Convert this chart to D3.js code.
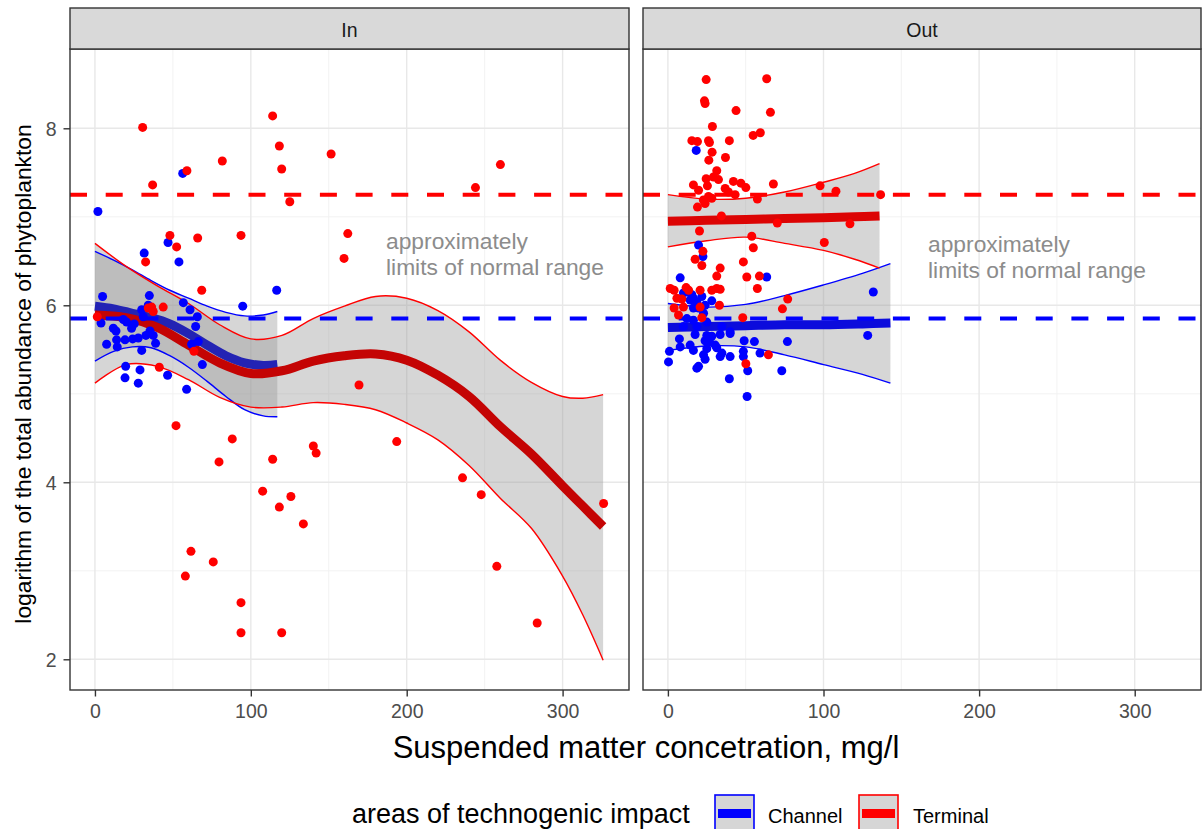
<!DOCTYPE html>
<html>
<head>
<meta charset="utf-8">
<script src="https://cdn.jsdelivr.net/npm/d3@7"></script>
<style>
  html, body { margin: 0; padding: 0; background: #ffffff; }
  svg { display: block; font-family: "Liberation Sans", Arial, Helvetica, sans-serif; }
</style>
</head>
<body>
<svg id="chart" width="1202" height="829"></svg>
<script>
// ---------------- DATA ----------------
const panelNames = ["In", "Out"];
const groupNames = ["Channel", "Terminal"];
const xTickValues = [0, 100, 200, 300];
const xMinorValues = [50, 150, 250];
const yTickValues = [2, 4, 6, 8];
const yMinorValues = [3, 5, 7];
const normalLimits = [5.85, 7.25];           // Channel, Terminal
const annotationLines = ["approximately", "limits of normal range"];
const xTitle = "Suspended matter concetration, mg/l";
const yTitle = "logarithm of the total abundance of phytoplankton";
const legendTitle = "areas of technogenic impact";

// points [x, y]
const inChannelPoints = [
  [1.9,7.06],[56.3,7.49],[46.9,6.71],[31.6,6.59],[53.9,6.49],[116.6,6.17],[94.8,5.99],[4.9,6.10],
  [34.9,6.11],[56.7,6.03],[61.0,5.95],[65.7,5.87],[64.6,5.76],[3.9,5.80],[11.8,5.74],[13.5,5.71],
  [18.2,5.84],[23.5,5.74],[30.0,5.95],[31.0,5.87],[34.2,6.00],[7.5,5.56],[13.9,5.61],[14.3,5.53],
  [19.3,5.61],[24.2,5.62],[27.8,5.63],[32.7,5.66],[35.3,5.71],[37.4,5.66],[38.9,5.57],[30.0,5.49],
  [62.0,5.56],[66.3,5.59],[68.9,5.33],[19.7,5.31],[28.9,5.27],[19.3,5.18],[27.8,5.12],[46.6,5.21],
  [58.8,5.05],[20.3,5.81],[25.2,5.79]
];
const inTerminalPoints = [
  [30.6,8.01],[37.0,7.36],[59.0,7.52],[81.7,7.63],[114.0,8.14],[118.3,7.80],[119.8,7.54],[151.5,7.71],
  [125.0,7.17],[48.1,6.79],[65.9,6.76],[93.7,6.79],[162.2,6.81],[52.4,6.66],[159.8,6.53],[68.5,6.17],
  [32.5,6.49],[43.8,5.98],[34.2,5.97],[36.4,5.98],[37.4,5.93],[1.5,5.87],[41.3,5.30],[63.5,5.48],
  [169.4,5.10],[52.0,4.64],[88.1,4.49],[79.6,4.23],[114.0,4.26],[140.1,4.41],[141.9,4.33],[193.6,4.46],
  [107.6,3.90],[125.7,3.84],[118.3,3.72],[133.7,3.53],[61.6,3.22],[75.9,3.10],[58.0,2.94],[93.7,2.64],
  [93.7,2.30],[119.8,2.30],[260.1,7.59],[244.1,7.33],[235.8,4.05],[247.8,3.86],[326.3,3.76],[257.8,3.05],
  [283.7,2.41]
];
const outChannelPoints = [
  [18.2,7.75],[19.7,6.68],[22.5,6.55],[7.9,6.31],[63.5,6.32],[132.0,6.15],[12.2,6.15],[15.4,6.12],
  [21.8,6.10],[18.6,6.04],[14.3,6.06],[16.4,5.97],[19.7,5.97],[22.9,5.91],[28.2,6.05],[10.0,6.14],
  [16.4,6.08],[23.9,6.00],[12.2,5.85],[16.4,5.83],[25.0,5.81],[10.0,5.76],[18.6,5.76],[34.7,5.76],
  [40.0,5.70],[17.5,5.67],[25.0,5.66],[28.2,5.65],[33.6,5.67],[40.0,5.68],[7.4,5.62],[23.9,5.60],
  [26.7,5.59],[49.0,5.60],[55.6,5.59],[76.8,5.59],[128.4,5.66],[14.3,5.55],[7.9,5.53],[16.4,5.49],
  [25.0,5.51],[30.4,5.55],[31.4,5.52],[1.0,5.48],[34.7,5.46],[33.6,5.42],[40.0,5.42],[22.9,5.44],
  [23.9,5.39],[48.5,5.48],[48.5,5.42],[59.2,5.46],[0.4,5.36],[19.7,5.31],[18.6,5.29],[51.3,5.26],
  [73.2,5.26],[39.5,5.17],[50.9,4.97]
];
const outTerminalPoints = [
  [24.6,8.55],[63.5,8.56],[23.5,8.31],[23.9,8.28],[43.8,8.20],[65.9,8.18],[28.6,8.02],[54.8,7.92],
  [59.4,7.95],[15.4,7.86],[19.0,7.85],[26.1,7.86],[26.7,7.84],[39.5,7.86],[28.4,7.73],[37.0,7.67],
  [26.3,7.64],[31.4,7.52],[24.6,7.43],[29.3,7.45],[32.5,7.42],[16.4,7.36],[19.7,7.30],[25.4,7.35],
  [42.1,7.40],[46.9,7.38],[50.1,7.33],[36.8,7.32],[38.9,7.28],[43.2,7.25],[67.8,7.37],[97.8,7.35],
  [108.0,7.29],[136.7,7.25],[22.8,7.19],[26.1,7.23],[28.2,7.21],[23.9,7.15],[19.0,7.11],[57.5,7.20],
  [34.4,7.01],[70.3,6.93],[117.0,6.92],[20.3,6.84],[53.9,6.78],[54.9,6.65],[100.5,6.71],[22.5,6.61],
  [17.5,6.52],[21.8,6.45],[48.5,6.49],[33.6,6.42],[31.4,6.33],[50.7,6.32],[58.8,6.33],[57.5,6.19],
  [1.5,6.19],[4.0,6.17],[11.7,6.20],[13.3,6.17],[20.7,6.17],[28.2,6.17],[31.4,6.19],[33.6,6.18],
  [5.8,6.08],[9.0,6.07],[10.0,5.98],[4.0,5.97],[6.8,5.89],[20.7,5.98],[33.1,6.00],[77.0,6.07],
  [73.6,5.96],[48.1,5.86],[21.8,5.86],[64.6,5.44],[50.1,5.34]
];

// smooth fits [x, fit, lower, upper]
const inChannelSmooth = [
  [0,5.99,5.37,6.61],[12,5.96,5.48,6.51],[24,5.91,5.53,6.40],[36,5.86,5.52,6.28],[48,5.79,5.43,6.17],
  [60,5.68,5.30,6.08],[72,5.55,5.14,5.99],[84,5.43,4.97,5.92],[96,5.35,4.82,5.88],[108,5.32,4.75,5.89],
  [117,5.33,4.74,5.93]
];
const inTerminalSmooth = [
  [0,5.89,5.12,6.70],[20,5.86,5.33,6.44],[40,5.75,5.31,6.22],[60,5.55,5.16,6.02],[80,5.35,4.96,5.78],
  [100,5.23,4.85,5.62],[120,5.26,4.85,5.66],[140,5.37,4.90,5.85],[160,5.43,4.88,5.99],[180,5.45,4.82,6.10],
  [200,5.38,4.67,6.08],[220,5.21,4.48,5.94],[240,4.97,4.19,5.70],[260,4.63,3.82,5.38],[280,4.32,3.48,5.13],
  [300,3.96,2.94,4.97],[313,3.73,2.50,4.95],[326,3.50,1.99,4.99]
];
const outChannelSmooth = [
  [0,5.75,5.49,6.02],[25,5.76,5.54,5.98],[50,5.77,5.53,6.01],[75,5.78,5.44,6.11],[100,5.78,5.33,6.23],
  [125,5.79,5.22,6.36],[143,5.80,5.12,6.47]
];
const outTerminalSmooth = [
  [0,6.95,6.66,7.25],[25,6.96,6.73,7.20],[50,6.97,6.77,7.21],[75,6.98,6.70,7.28],[100,6.99,6.62,7.39],
  [120,7.00,6.52,7.49],[136,7.01,6.42,7.60]
];

// ---------------- STYLE ----------------
const groupColors = ["#0000ff", "#ff0000"];
const fitColors = [["#2323b4", "#c40404"], ["#0c0cdc", "#dc0404"]]; // per panel: Channel, Terminal
const fontFam = '"Liberation Sans", Arial, Helvetica, sans-serif';

// ---------------- DRAW ----------------
const svg = d3.select("#chart");
const panelTop = 49, panelBottom = 690;
const panelXRanges = [[70, 629], [643, 1201]];
const xDomain = [-16, 342.6];
const y = d3.scaleLinear().domain([1.653, 8.896]).range([panelBottom, panelTop]);

const panelData = [
  { points: [inChannelPoints, inTerminalPoints], smooth: [inChannelSmooth, inTerminalSmooth], ann: [386, 249] },
  { points: [outChannelPoints, outTerminalPoints], smooth: [outChannelSmooth, outTerminalSmooth], ann: [928, 252] }
];

const defs = svg.append("defs");

panelNames.forEach((pname, pi) => {
  const [x0, x1] = panelXRanges[pi];
  const x = d3.scaleLinear().domain(xDomain).range([x0, x1]);
  const pd = panelData[pi];

  defs.append("clipPath").attr("id", "clip" + pi)
    .append("rect").attr("x", x0).attr("y", panelTop).attr("width", x1 - x0).attr("height", panelBottom - panelTop);

  const g = svg.append("g");
  g.append("rect").attr("x", x0).attr("y", panelTop).attr("width", x1 - x0).attr("height", panelBottom - panelTop)
    .attr("fill", "#ffffff");

  const inner = g.append("g").attr("clip-path", `url(#clip${pi})`);

  // grid
  const grid = inner.append("g");
  xMinorValues.forEach(v => grid.append("line").attr("x1", x(v)).attr("x2", x(v)).attr("y1", panelTop).attr("y2", panelBottom)
    .attr("stroke", "#f0f0f0").attr("stroke-width", 0.9));
  yMinorValues.forEach(v => grid.append("line").attr("x1", x0).attr("x2", x1).attr("y1", y(v)).attr("y2", y(v))
    .attr("stroke", "#f0f0f0").attr("stroke-width", 0.9));
  xTickValues.forEach(v => grid.append("line").attr("x1", x(v)).attr("x2", x(v)).attr("y1", panelTop).attr("y2", panelBottom)
    .attr("stroke", "#e8e8e8").attr("stroke-width", 1.4));
  yTickValues.forEach(v => grid.append("line").attr("x1", x0).attr("x2", x1).attr("y1", y(v)).attr("y2", y(v))
    .attr("stroke", "#e8e8e8").attr("stroke-width", 1.4));

  const curve = d3.curveCatmullRom.alpha(0.5);
  const fitLine = d3.line().x(d => x(d[0])).y(d => y(d[1])).curve(curve);
  const loLine = d3.line().x(d => x(d[0])).y(d => y(d[2])).curve(curve);
  const hiLine = d3.line().x(d => x(d[0])).y(d => y(d[3])).curve(curve);
  const band = d3.area().x(d => x(d[0])).y0(d => y(d[2])).y1(d => y(d[3])).curve(curve);

  // confidence ribbons
  pd.smooth.forEach((s, gi) => {
    inner.append("path").attr("d", band(s)).attr("fill", "#999999").attr("fill-opacity", 0.4);
  });
  // thick fitted lines
  pd.smooth.forEach((s, gi) => {
    inner.append("path").attr("d", fitLine(s)).attr("fill", "none")
      .attr("stroke", fitColors[pi][gi]).attr("stroke-width", 9).attr("stroke-linecap", "butt");
  });
  // ribbon boundary lines
  pd.smooth.forEach((s, gi) => {
    inner.append("path").attr("d", loLine(s)).attr("fill", "none").attr("stroke", groupColors[gi]).attr("stroke-width", 1.4);
    inner.append("path").attr("d", hiLine(s)).attr("fill", "none").attr("stroke", groupColors[gi]).attr("stroke-width", 1.4);
  });
  // normal-range limits
  normalLimits.forEach((v, gi) => {
    inner.append("line").attr("x1", x0).attr("x2", x1).attr("y1", y(v)).attr("y2", y(v))
      .attr("stroke", groupColors[gi]).attr("stroke-width", 4).attr("stroke-dasharray", "17,18.7");
  });
  // points
  pd.points.forEach((pts, gi) => {
    inner.append("g").selectAll("circle").data(pts).join("circle")
      .attr("cx", d => x(d[0])).attr("cy", d => y(d[1])).attr("r", 4.5)
      .attr("fill", groupColors[gi]);
  });

  // annotation
  const ann = g.append("text").attr("x", pd.ann[0]).attr("y", pd.ann[1])
    .attr("font-size", 22.8).attr("fill", "#8c8c8c").attr("font-family", fontFam);
  annotationLines.forEach((t, i) => ann.append("tspan").attr("x", pd.ann[0]).attr("dy", i === 0 ? 0 : 26).text(t));

  // border
  g.append("rect").attr("x", x0).attr("y", panelTop).attr("width", x1 - x0).attr("height", panelBottom - panelTop)
    .attr("fill", "none").attr("stroke", "#333333").attr("stroke-width", 1.4);

  // strip
  g.append("rect").attr("x", x0).attr("y", 8).attr("width", x1 - x0).attr("height", panelTop - 8)
    .attr("fill", "#d9d9d9").attr("stroke", "#333333").attr("stroke-width", 1.4);
  g.append("text").attr("x", (x0 + x1) / 2).attr("y", 37.3).attr("text-anchor", "middle")
    .attr("font-size", 19.5).attr("fill", "#1a1a1a").attr("font-family", fontFam).text(pname);

  // x axis
  const xAxis = g.append("g").attr("transform", `translate(0,${panelBottom})`)
    .call(d3.axisBottom(x).tickValues(xTickValues).tickSize(6.5).tickPadding(5).tickFormat(d3.format("d")));
  xAxis.select(".domain").remove();
  xAxis.selectAll("line").attr("stroke", "#333333").attr("stroke-width", 1.4);
  xAxis.selectAll("text").attr("font-size", 19.5).attr("fill", "#4d4d4d").attr("font-family", fontFam)
    .attr("dy", null).attr("y", 28);

  if (pi === 0) {
    const yAxis = g.append("g").attr("transform", `translate(${x0},0)`)
      .call(d3.axisLeft(y).tickValues(yTickValues).tickSize(6.5).tickPadding(7).tickFormat(d3.format("d")));
    yAxis.select(".domain").remove();
    yAxis.selectAll("line").attr("stroke", "#333333").attr("stroke-width", 1.4);
    yAxis.selectAll("text").attr("font-size", 19.5).attr("fill", "#4d4d4d").attr("font-family", fontFam)
      .attr("dy", "0.35em");
  }
});

// axis titles
svg.append("text").attr("x", 646).attr("y", 758).attr("text-anchor", "middle")
  .attr("font-size", 31).attr("fill", "#000000").attr("font-family", fontFam).text(xTitle);
svg.append("text").attr("transform", "translate(31,374) rotate(-90)").attr("text-anchor", "middle")
  .attr("font-size", 22.8).attr("fill", "#000000").attr("font-family", fontFam).text(yTitle);

// legend
const legend = svg.append("g");
legend.append("text").attr("x", 352).attr("y", 823).attr("font-size", 27).attr("fill", "#000000")
  .attr("font-family", fontFam).text(legendTitle);
const keyX = [715, 859], labelX = [768, 913];
groupNames.forEach((name, gi) => {
  legend.append("rect").attr("x", keyX[gi]).attr("y", 795).attr("width", 39).attr("height", 39)
    .attr("fill", "#d6d6d6").attr("stroke", groupColors[gi]).attr("stroke-width", 1.6);
  legend.append("line").attr("x1", keyX[gi] + 3).attr("x2", keyX[gi] + 36).attr("y1", 813.5).attr("y2", 813.5)
    .attr("stroke", groupColors[gi]).attr("stroke-width", 9);
  legend.append("text").attr("x", labelX[gi]).attr("y", 822.7).attr("font-size", 20).attr("fill", "#000000")
    .attr("font-family", fontFam).text(name);
});
</script>
</body>
</html>
